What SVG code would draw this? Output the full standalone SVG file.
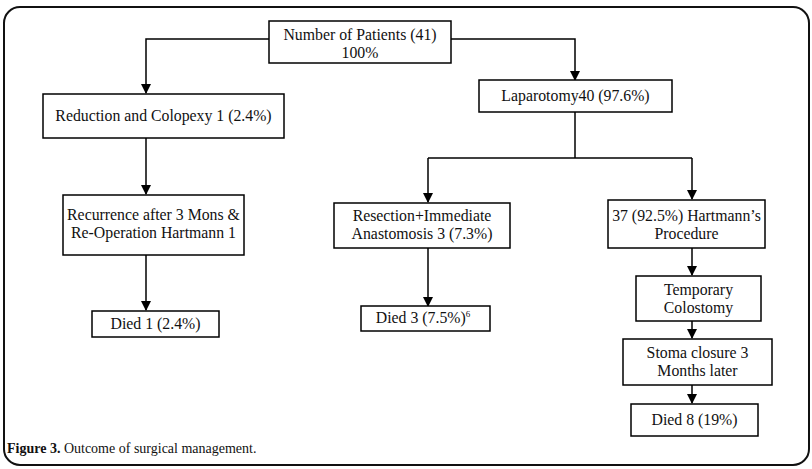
<svg xmlns="http://www.w3.org/2000/svg" width="812" height="469" viewBox="0 0 812 469">
<style>
.box{fill:#fff;stroke:#000;stroke-width:1.5}
.t{font-family:"Liberation Serif","Times New Roman",serif;font-size:15.8px;fill:#111;text-anchor:middle}
.ln{fill:none;stroke:#000;stroke-width:1.5}
.cap{font-family:"Liberation Serif","Times New Roman",serif;font-size:14px;fill:#111}
</style>
<defs>
<marker id="ah" markerWidth="10" markerHeight="10" refX="9" refY="5" orient="auto" markerUnits="userSpaceOnUse">
<path d="M0,0 L10,5 L0,10 Z" fill="#000"/>
</marker>
</defs>
<rect x="4" y="7" width="805" height="458" rx="16" ry="16" fill="#fff" stroke="#111" stroke-width="2"/>
<g id="connectors">
<path class="ln" d="M269,39 H146 V93" marker-end="url(#ah)"/>
<path class="ln" d="M451,39 H575 V80" marker-end="url(#ah)"/>
<path class="ln" d="M575,112 V158"/>
<path class="ln" d="M428,158 H692"/>
<path class="ln" d="M428,158 V202" marker-end="url(#ah)"/>
<path class="ln" d="M692,158 V199" marker-end="url(#ah)"/>
<path class="ln" d="M146,138 V194" marker-end="url(#ah)"/>
<path class="ln" d="M146,255 V310" marker-end="url(#ah)"/>
<path class="ln" d="M428,248 V306" marker-end="url(#ah)"/>
<path class="ln" d="M692,248 V275" marker-end="url(#ah)"/>
<path class="ln" d="M692,321 V338" marker-end="url(#ah)"/>
<path class="ln" d="M692,385 V403" marker-end="url(#ah)"/>
</g>
<g id="n-patients">
<rect class="box" x="269" y="21" width="182" height="42"/>
<text class="t" x="360" y="40">Number of Patients (41)</text>
<text class="t" x="360" y="58">100%</text>
</g>
<g id="n-laparotomy">
<rect class="box" x="479" y="80" width="193" height="32"/>
<text class="t" x="575.5" y="101">Laparotomy40 (97.6%)</text>
</g>
<g id="n-reduction">
<rect class="box" x="43" y="94" width="241" height="44"/>
<text class="t" x="163.5" y="121">Reduction and Colopexy 1 (2.4%)</text>
</g>
<g id="n-recurrence">
<rect class="box" x="63" y="195" width="181" height="60"/>
<text class="t" x="153.5" y="220">Recurrence after 3 Mons &amp;</text>
<text class="t" x="153.5" y="238">Re-Operation Hartmann 1</text>
</g>
<g id="n-resection">
<rect class="box" x="334" y="203" width="176" height="45"/>
<text class="t" x="422" y="221">Resection+Immediate</text>
<text class="t" x="422" y="239">Anastomosis 3 (7.3%)</text>
</g>
<g id="n-hartmann">
<rect class="box" x="608" y="200" width="157" height="48"/>
<text class="t" x="686.5" y="221">37 (92.5%) Hartmann’s</text>
<text class="t" x="686.5" y="239">Procedure</text>
</g>
<g id="n-died1">
<rect class="box" x="92" y="311" width="127" height="26"/>
<text class="t" x="155.5" y="329">Died 1 (2.4%)</text>
</g>
<g id="n-died3">
<rect class="box" x="361" y="306" width="129" height="25"/>
<text class="t" x="423" y="323">Died 3 (7.5%)<tspan font-size="9" dy="-6">6</tspan></text>
</g>
<g id="n-temporary">
<rect class="box" x="636" y="276" width="125" height="45"/>
<text class="t" x="698.5" y="295">Temporary</text>
<text class="t" x="698.5" y="313">Colostomy</text>
</g>
<g id="n-stoma">
<rect class="box" x="623" y="339" width="149" height="46"/>
<text class="t" x="697.5" y="358">Stoma closure 3</text>
<text class="t" x="697.5" y="376">Months later</text>
</g>
<g id="n-died8">
<rect class="box" x="631" y="404" width="127" height="32"/>
<text class="t" x="694.5" y="425">Died 8 (19%)</text>
</g>
<text class="cap" x="7" y="453"><tspan font-weight="bold">Figure 3.</tspan> Outcome of surgical management.</text>
</svg>
